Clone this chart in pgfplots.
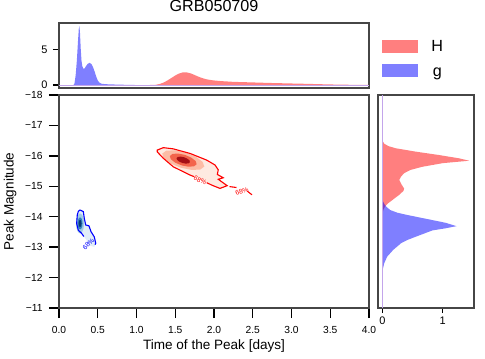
\documentclass[border=0pt]{standalone}
\usepackage{fontspec}
\setmainfont{Liberation Sans}
\usepackage{pgfplots}
\pgfplotsset{compat=1.18}

\definecolor{spine}{RGB}{70,70,70}
\definecolor{baseln}{RGB}{195,165,235}
\definecolor{rA}{RGB}{254,234,225}
\definecolor{rB}{RGB}{252,188,165}
\definecolor{rC}{RGB}{243,100,75}
\definecolor{rD}{RGB}{165,15,21}
\definecolor{bA}{RGB}{225,237,248}
\definecolor{bB}{RGB}{160,202,228}
\definecolor{bC}{RGB}{50,130,190}
\definecolor{bD}{RGB}{8,55,115}

\pgfplotsset{
  frame/.style={scale only axis, axis line style={spine, line width=1.3bp},
    tick style={black, line width=1.3bp}, tick align=outside},
}

\begin{document}
\begin{tikzpicture}
\path[use as bounding box] (-59bp,-51bp) rectangle (426bp,308bp);

% main panel
\begin{axis}[frame, at={(0,0)}, anchor=south west,
  width=310bp, height=213bp,
  xmin=0, xmax=4, ymin=-18, ymax=-11, y dir=reverse,
  xtick={0,0.5,1,1.5,2,2.5,3,3.5,4},
  xticklabels={0.0,0.5,1.0,1.5,2.0,2.5,3.0,3.5,4.0},
  ytick={-18,-17,-16,-15,-14,-13,-12,-11},
  yticklabels={−18,−17,−16,−15,−14,−13,−12,−11},
  xtick pos=left, ytick pos=left, major tick length=10bp,
  tick label style={font=\fontsize{10.3}{12}\selectfont},
  xticklabel style={yshift=-5bp},
  yticklabel style={xshift=-3bp},
  xlabel={Time of the Peak [days]}, ylabel={Peak Magnitude},
  label style={font=\fontsize{13.6}{15}\selectfont},
  xlabel style={at={(axis description cs:0.5,-0.178)}, anchor=center},
  ylabel style={at={(axis description cs:-0.158,0.5)}, anchor=center},
]
% H (red) density
\addplot[draw=none, fill=rA] coordinates {
 (1.268,-16.19) (1.346,-16.27) (1.475,-16.23) (1.69,-16.08) (1.906,-15.86)
 (2.013,-15.70) (2.055,-15.54) (2.043,-15.39) (2.12,-15.28) (2.055,-15.23)
 (2.17,-15.02) (2.077,-14.93) (1.97,-15.04) (1.906,-15.12) (1.69,-15.37)
 (1.475,-15.64) (1.346,-15.92) (1.268,-16.13)};
\addplot[draw=none, fill=rB] coordinates {
 (1.875,-15.649) (1.823,-15.551) (1.713,-15.537) (1.573,-15.609) (1.441,-15.748)
 (1.353,-15.917) (1.332,-16.071) (1.383,-16.169) (1.493,-16.183) (1.633,-16.111)
 (1.765,-15.972) (1.853,-15.803)};
\addplot[draw=none, fill=rC] coordinates {
 (1.776,-15.726) (1.742,-15.657) (1.671,-15.643) (1.582,-15.687) (1.499,-15.778)
 (1.443,-15.890) (1.430,-15.994) (1.464,-16.063) (1.535,-16.077) (1.624,-16.033)
 (1.707,-15.942) (1.763,-15.830)};
\addplot[draw=none, fill=rD] coordinates {
 (1.689,-15.793) (1.672,-15.755) (1.636,-15.745) (1.592,-15.766) (1.550,-15.812)
 (1.523,-15.871) (1.517,-15.927) (1.534,-15.965) (1.570,-15.975) (1.614,-15.954)
 (1.656,-15.908) (1.684,-15.849)};
\addplot[red, line width=1.1bp] coordinates {
 (1.906,-15.12) (1.97,-15.04) (2.077,-14.93) (2.17,-15.02) (2.055,-15.23)
 (2.12,-15.28) (2.043,-15.39) (2.055,-15.54) (2.013,-15.70) (1.906,-15.86)
 (1.69,-16.08) (1.475,-16.23) (1.346,-16.27) (1.268,-16.19) (1.268,-16.13)
 (1.346,-15.92) (1.475,-15.64) (1.69,-15.37) (1.74,-15.32)};
\addplot[red, line width=1.1bp] coordinates {(2.20,-14.99) (2.29,-14.96)};
\addplot[red, line width=1.1bp] coordinates {(2.43,-14.84) (2.49,-14.72)};
% g (blue) density
\addplot[draw=none, fill=bA] coordinates {
 (0.271,-14.22) (0.314,-14.17) (0.326,-13.95) (0.345,-13.73) (0.387,-13.70)
 (0.413,-13.51) (0.455,-13.34) (0.474,-13.13) (0.455,-13.01) (0.40,-13.05)
 (0.35,-13.25) (0.293,-13.45) (0.249,-13.56) (0.228,-13.78) (0.236,-14.06)
 (0.25,-14.18)};
\addplot[draw=none, fill=bB] coordinates {
 (0.324,-13.78) (0.317,-13.616) (0.298,-13.495) (0.272,-13.451) (0.246,-13.495)
 (0.227,-13.616) (0.220,-13.78) (0.227,-13.945) (0.246,-14.065) (0.272,-14.109)
 (0.298,-14.065) (0.317,-13.945)};
\addplot[draw=none, fill=bC] coordinates {
 (0.304,-13.78) (0.300,-13.681) (0.288,-13.609) (0.272,-13.583) (0.256,-13.609)
 (0.244,-13.681) (0.240,-13.78) (0.244,-13.879) (0.256,-13.951) (0.272,-13.977)
 (0.288,-13.951) (0.300,-13.879)};
\addplot[draw=none, fill=bD] coordinates {
 (0.291,-13.78) (0.288,-13.723) (0.282,-13.680) (0.272,-13.665) (0.262,-13.680)
 (0.256,-13.723) (0.253,-13.78) (0.256,-13.838) (0.262,-13.880) (0.272,-13.895)
 (0.282,-13.880) (0.288,-13.838)};
\addplot[blue, line width=1.1bp] coordinates {
 (0.465,-13.08) (0.474,-13.13) (0.455,-13.34) (0.413,-13.51) (0.387,-13.70)
 (0.345,-13.73) (0.326,-13.95) (0.314,-14.17) (0.271,-14.22) (0.25,-14.18)
 (0.236,-14.06) (0.228,-13.78) (0.249,-13.56) (0.293,-13.45) (0.32,-13.35)};
\node[red, font=\fontsize{6.7}{7}\selectfont, rotate=-25, inner sep=0pt] at (axis cs:1.82,-15.20) {68\%};
\node[red, font=\fontsize{6.7}{7}\selectfont, rotate=20, inner sep=0pt] at (axis cs:2.36,-14.84) {68\%};
\node[blue, font=\fontsize{6.7}{7}\selectfont, rotate=45, inner sep=0pt] at (axis cs:0.38,-13.10) {68\%};
\end{axis}

% top marginal
\begin{axis}[frame, at={(0,220bp)}, anchor=south west,
  width=310bp, height=65bp,
  xmin=0, xmax=4, ymin=-0.42, ymax=8.79,
  xtick=\empty, ytick={0,5}, yticklabels={0,5}, ytick pos=left,
  major tick length=6bp,
  tick label style={font=\fontsize{11}{12}\selectfont},
  yticklabel style={xshift=-2bp},
  title={GRB050709},
  title style={font=\fontsize{16.2}{18}\selectfont, at={(axis description cs:0.5,1.165)}, anchor=center},
  legend style={at={(axis description cs:1,1)}, anchor=north west, xshift=12.7bp, yshift=-15bp,
    draw=none, fill=none, inner sep=0pt, row sep=9bp,
    font=\fontsize{16.2}{18}\selectfont,
    nodes={inner sep=2bp, text height=11.7bp, text depth=0bp},
    /tikz/every odd column/.append style={column sep=11bp}},
  legend image code/.code={\fill[#1] (0bp,-6.5bp) rectangle (36.6bp,6.5bp);},
]
\addplot[draw=none, fill=red, fill opacity=0.5] coordinates {
 (1.15,0) (1.2,0.01) (1.25,0.04) (1.3,0.15) (1.35,0.35) (1.4,0.65) (1.45,1.0)
 (1.5,1.35) (1.55,1.63) (1.6,1.8) (1.65,1.78) (1.7,1.65) (1.75,1.42) (1.8,1.18)
 (1.85,0.98) (1.9,0.82) (1.95,0.72) (2.0,0.65) (2.1,0.55) (2.25,0.45) (2.5,0.37)
 (2.7,0.3) (3.0,0.22) (3.2,0.17) (3.4,0.11) (3.6,0.06) (3.8,0.03) (4.0,0.01) (4.0,0)};
\addlegendentry{H}
\addplot[draw=none, fill=blue, fill opacity=0.5] coordinates {
 (0.18,0) (0.19,0.02) (0.20,0.25) (0.215,1.4) (0.23,3.4) (0.245,6.2) (0.255,7.9)
 (0.262,8.37) (0.27,7.6) (0.28,5.2) (0.29,3.5) (0.30,2.7) (0.315,2.3) (0.33,2.35)
 (0.35,2.7) (0.37,3.0) (0.395,3.15) (0.42,2.95) (0.44,2.5) (0.46,1.9) (0.48,1.2)
 (0.50,0.65) (0.52,0.35) (0.55,0.18) (0.6,0.12) (0.7,0.08) (0.8,0.05) (0.9,0.02) (1.0,0)};
\addlegendentry{g}
\addplot[baseln, line width=1bp, forget plot] coordinates {(0,0) (4,0)};
\end{axis}

% right marginal
\begin{axis}[frame, at={(319bp,0)}, anchor=south west,
  width=96bp, height=213bp,
  xmin=-0.073, xmax=1.52, ymin=-18, ymax=-11, y dir=reverse,
  ytick=\empty, xtick={0,1}, xticklabels={0,1}, xtick pos=left,
  major tick length=5bp,
  tick label style={font=\fontsize{11}{12}\selectfont},
]
\addplot[draw=none, fill=red, fill opacity=0.5] coordinates {
 (0,-16.5) (0.03,-16.4) (0.1,-16.32) (0.22,-16.25) (0.55,-16.14) (0.93,-16.03)
 (1.27,-15.92) (1.44,-15.84) (1.0,-15.76) (0.66,-15.64) (0.47,-15.54) (0.36,-15.43)
 (0.31,-15.32) (0.28,-15.21) (0.32,-15.05) (0.36,-14.93) (0.35,-14.85) (0.28,-14.72)
 (0.2,-14.6) (0.1,-14.45) (0.05,-14.35) (0.02,-14.25) (0,-14.1)};
\addplot[draw=none, fill=blue, fill opacity=0.5] coordinates {
 (0,-14.55) (0.03,-14.42) (0.07,-14.32) (0.13,-14.22) (0.25,-14.13) (0.43,-14.05)
 (0.68,-13.95) (1.05,-13.8) (1.23,-13.69) (1.05,-13.62) (0.83,-13.55) (0.55,-13.34)
 (0.42,-13.24) (0.31,-13.13) (0.18,-12.91) (0.08,-12.69) (0.03,-12.47) (0.01,-12.3)
 (0,-12.2)};
\addplot[baseln, line width=1bp] coordinates {(0,-18) (0,-11)};
\end{axis}
\end{tikzpicture}
\end{document}
